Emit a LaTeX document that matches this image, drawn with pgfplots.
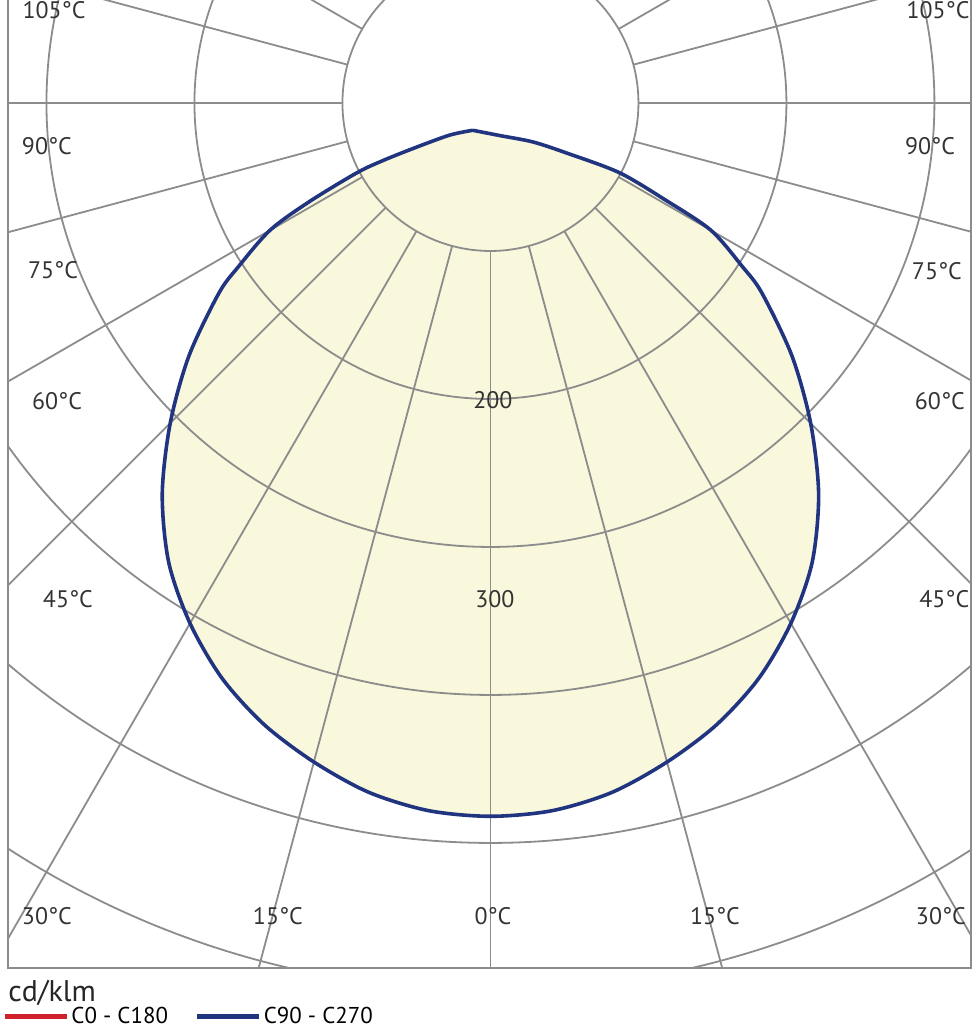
\documentclass[border=0pt]{standalone}
\usepackage{fontspec}
\setmainfont{PT Sans}
\usepackage{pgfplots}
\pgfplotsset{compat=1.18}
\definecolor{gridgray}{RGB}{140,140,140}
\definecolor{curvenavy}{RGB}{33,52,128}
\definecolor{curvefill}{RGB}{249,248,220}
\definecolor{legred}{RGB}{208,32,44}
\begin{document}
\begin{tikzpicture}
\begin{axis}[
  x=0.74bp, y=0.74bp,
  xmin=-326, xmax=324.7, ymin=-584.5, ymax=69.6,
  hide axis, clip=true,
  legend style={draw=none, fill=none, at={(-0.0062,-0.0506)}, anchor=west,
    legend columns=2, inner sep=0pt, outer sep=0pt,
    nodes={inner xsep=1.2bp},
    font=\fontsize{11.5}{13}\selectfont,
    /tikz/every even column/.append style={column sep=12bp}},
  legend image code/.code={\draw[#1, line width=2.5bp] (0bp,0bp) -- (31bp,0bp);},
]
% filled area (C90 - C270), polar data: angle (deg), intensity (cd/klm)
\addplot[fill=curvefill, draw=none, smooth, tension=0.5, data cs=polar, forget plot] coordinates {
(237,22) (286.5,23) (317.5,39) (326.8,62) (331.6,99) (331,135) (330,172) (327,203)
(325,224) (320,266) (315,306) (310,345) (305,379) (300,406) (295,429) (290,447)
(285,461) (280,473) (275,480) (270,482)
(265,480) (260,473) (255,461) (250,447) (245,429) (240,406) (235,379) (230,345)
(225,306) (220,266) (215,224) (213,203) (210,172) (208.6,140) (207.6,102)
(208.2,82) (210.9,58) (218.3,35) (237,22)
};
% grid circles
\draw[gridgray, line width=0.9bp] (axis cs:0,0) circle[radius=100];
\draw[gridgray, line width=0.9bp] (axis cs:0,0) circle[radius=200];
\draw[gridgray, line width=0.9bp] (axis cs:0,0) circle[radius=300];
\draw[gridgray, line width=0.9bp] (axis cs:0,0) circle[radius=400];
\draw[gridgray, line width=0.9bp] (axis cs:0,0) circle[radius=500];
\draw[gridgray, line width=0.9bp] (axis cs:0,0) circle[radius=600];
% radial lines every 15 degrees
\pgfplotsinvokeforeach{0,15,...,345}{
  \draw[gridgray, line width=0.9bp] (axis cs:{100*cos(#1)},{100*sin(#1)}) -- (axis cs:{900*cos(#1)},{900*sin(#1)});
}
\addlegendimage{legred}
\addlegendentry{C0 - C180}
\addplot[curvenavy, line width=1.8bp, smooth, tension=0.5, data cs=polar] coordinates {
(237,22) (286.5,23) (317.5,39) (326.8,62) (331.6,99) (331,135) (330,172) (327,203)
(325,224) (320,266) (315,306) (310,345) (305,379) (300,406) (295,429) (290,447)
(285,461) (280,473) (275,480) (270,482)
(265,480) (260,473) (255,461) (250,447) (245,429) (240,406) (235,379) (230,345)
(225,306) (220,266) (215,224) (213,203) (210,172) (208.6,140) (207.6,102)
(208.2,82) (210.9,58) (218.3,35) (237,22)
};
\addlegendentry{C90 - C270}
% labels
\begin{scope}[every node/.style={font=\fontsize{12}{14}\selectfont, text=black!80, inner sep=0pt}]
\node at (axis cs:-294.9,62.8) {105°C};
\node at (axis cs:302.4,62.8) {105°C};
\node at (axis cs:-299.7,-29.1) {90°C};
\node at (axis cs:297.0,-29.1) {90°C};
\node at (axis cs:-295.6,-112.8) {75°C};
\node at (axis cs:301.7,-113.5) {75°C};
\node at (axis cs:-292.9,-201.4) {60°C};
\node at (axis cs:303.7,-201.4) {60°C};
\node at (axis cs:-285.5,-335.1) {45°C};
\node[anchor=east] at (axis cs:323.8,-335.1) {45°C};
\node at (axis cs:-299.7,-549.3) {30°C};
\node at (axis cs:304.4,-549.3) {30°C};
\node at (axis cs:-143.6,-549.3) {15°C};
\node at (axis cs:151.7,-549.3) {15°C};
\node at (axis cs:1.7,-549.3) {0°C};
\node at (axis cs:1.7,-200.7) {200};
\node at (axis cs:3.0,-335.1) {300};
\end{scope}
\coordinate (TL) at (axis cs:-326,69.6);
\coordinate (BL) at (axis cs:-326,-584.5);
\coordinate (BR) at (axis cs:324.7,-584.5);
\coordinate (TR) at (axis cs:324.7,69.6);
\coordinate (cdk) at (axis cs:-326,-601.4);
\coordinate (bbA) at (axis cs:-331.4,69.6);
\coordinate (bbB) at (axis cs:326.0,-626.4);
\end{axis}
\draw[gridgray, line width=1bp] (TL) -- (BL) -- (BR) -- (TR);
\node[anchor=west, inner sep=0pt, font=\fontsize{15}{17}\selectfont, text=black!85] at (cdk) {cd/klm};
\pgfresetboundingbox
\path[use as bounding box] (bbA) rectangle (bbB);
\end{tikzpicture}
\end{document}
